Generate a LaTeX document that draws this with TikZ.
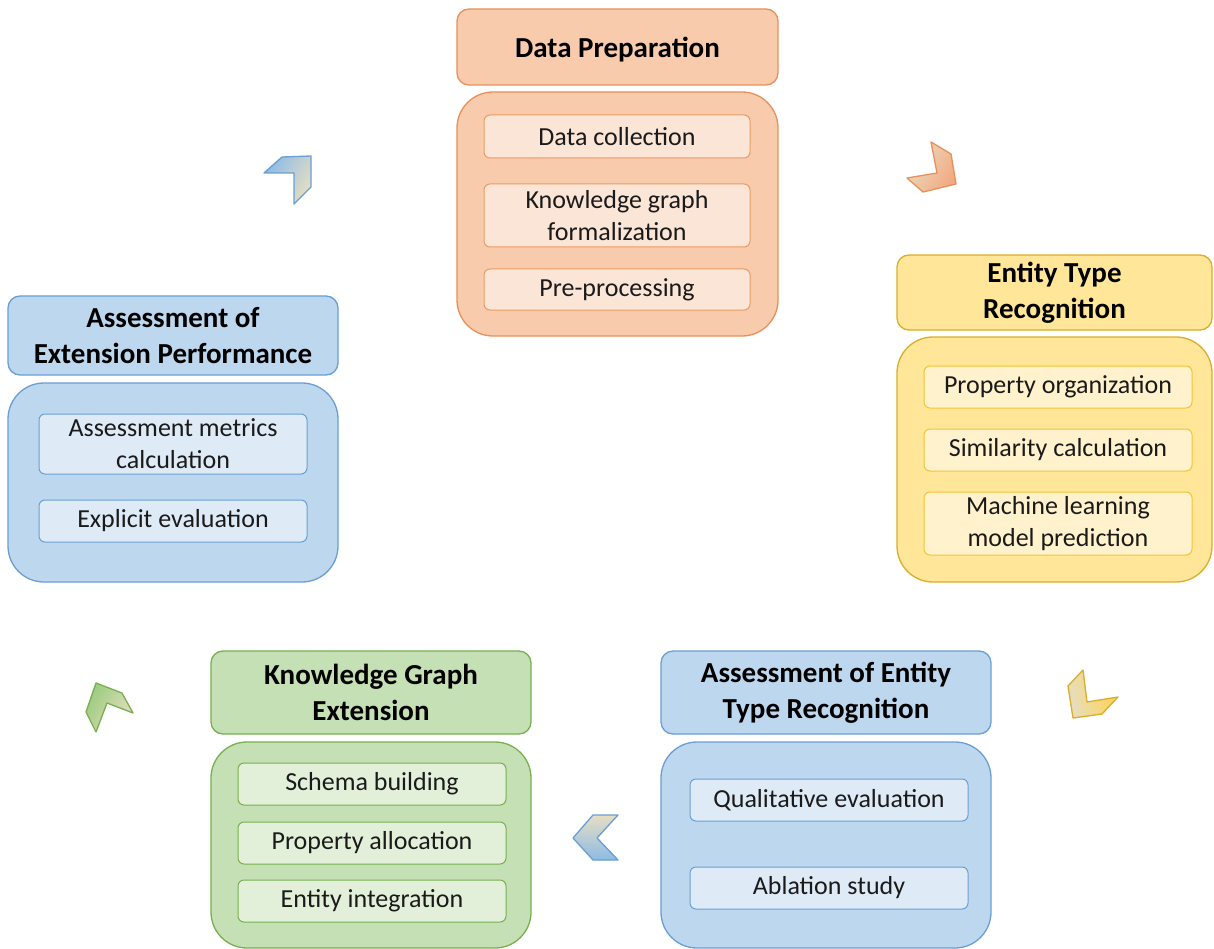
\documentclass[tikz,border=0pt]{standalone}
\usepackage{fontspec}
\setmainfont{Carlito}
\definecolor{orH}{HTML}{F8CBAD}
\definecolor{orB}{HTML}{E8905A}
\definecolor{orI}{HTML}{FBE5D6}
\definecolor{orIB}{HTML}{EE9A62}
\definecolor{yeH}{HTML}{FFE699}
\definecolor{yeB}{HTML}{D9AE2A}
\definecolor{yeI}{HTML}{FFF2CC}
\definecolor{yeIB}{HTML}{F5C433}
\definecolor{blH}{HTML}{BDD7EE}
\definecolor{blB}{HTML}{6A9FD4}
\definecolor{blI}{HTML}{DEEBF7}
\definecolor{blIB}{HTML}{6A9FD4}
\definecolor{grH}{HTML}{C5E0B4}
\definecolor{grB}{HTML}{78B050}
\definecolor{grI}{HTML}{E2F0D9}
\definecolor{grIB}{HTML}{78B050}
\definecolor{beige}{HTML}{E6DEC2}
\definecolor{chO}{HTML}{F4A982}
\definecolor{chY}{HTML}{FFD24D}
\definecolor{chB}{HTML}{8DBBE6}
\definecolor{chG}{HTML}{9CCB7E}
\definecolor{txt}{HTML}{1A1A1A}
\tikzset{
  hdr/.style={draw=#1, rounded corners=12pt, line width=1.3pt, align=center,
    font=\bfseries\fontsize{29}{36}\selectfont, inner sep=0pt, text=black},
  bodybox/.style={draw=#1, rounded corners=36pt, line width=1.3pt, inner sep=0pt},
  item/.style={draw=#1, rounded corners=6pt, line width=1pt, align=center,
    font=\fontsize{26}{32}\selectfont, inner sep=0pt, text=txt},
  chev/.style={line width=1.3pt, line join=round}
}
\begin{document}
\begin{tikzpicture}[x=1pt,y=-1pt]
\useasboundingbox (0,0) rectangle (1214,949);
\fill[white] (0,0) rectangle (1214,949);

% Data Preparation
\node[hdr=orB, fill=orH, minimum width=321, minimum height=76, text depth=0pt] (dph) at (617.5,47) {Data Preparation};
\node[bodybox=orB, fill=orH, minimum width=321, minimum height=244] (dpb) at (617.5,214) {};
\node[item=orIB, fill=orI, minimum width=266, minimum height=43] (dp1) at (617,136.5) {Data collection};
\node[item=orIB, fill=orI, minimum width=266, minimum height=63] (dp2) at (617,215.5) {Knowledge graph\\formalization};
\node[item=orIB, fill=orI, minimum width=266, minimum height=41] (dp3) at (617,289.5) {Pre-processing};

% Entity Type Recognition
\node[hdr=yeB, fill=yeH, minimum width=315, minimum height=75] (eth) at (1054.5,292.5) {Entity Type\\Recognition};
\node[bodybox=yeB, fill=yeH, minimum width=315, minimum height=245] (etb) at (1054.5,459.5) {};
\node[item=yeIB, fill=yeI, minimum width=268, minimum height=42] (et1) at (1058,387) {Property organization};
\node[item=yeIB, fill=yeI, minimum width=268, minimum height=42] (et2) at (1058,450) {Similarity calculation};
\node[item=yeIB, fill=yeI, minimum width=268, minimum height=63] (et3) at (1058,523.5) {Machine learning\\model prediction};

% Assessment of Entity Type Recognition
\node[hdr=blB, fill=blH, minimum width=330, minimum height=83] (aeh) at (826,692.5) {Assessment of Entity\\Type Recognition};
\node[bodybox=blB, fill=blH, minimum width=330, minimum height=206] (aeb) at (826,845) {};
\node[item=blIB, fill=blI, minimum width=278, minimum height=42] (ae1) at (829,800) {Qualitative evaluation};
\node[item=blIB, fill=blI, minimum width=278, minimum height=42] (ae2) at (829,888) {Ablation study};

% Knowledge Graph Extension
\node[hdr=grB, fill=grH, minimum width=320, minimum height=83] (kgh) at (371,692.5) {Knowledge Graph\\Extension};
\node[bodybox=grB, fill=grH, minimum width=320, minimum height=206] (kgb) at (371,845) {};
\node[item=grIB, fill=grI, minimum width=268, minimum height=42] (kg1) at (372,784) {Schema building};
\node[item=grIB, fill=grI, minimum width=268, minimum height=42] (kg2) at (372,843) {Property allocation};
\node[item=grIB, fill=grI, minimum width=268, minimum height=42] (kg3) at (372,901) {Entity integration};

% Assessment of Extension Performance
\node[hdr=blB, fill=blH, minimum width=330, minimum height=79] (aph) at (173,335.5) {Assessment of\\Extension Performance};
\node[bodybox=blB, fill=blH, minimum width=330, minimum height=199] (apb) at (173,482.5) {};
\node[item=blIB, fill=blI, minimum width=268, minimum height=60] (ap1) at (173,444) {Assessment metrics\\calculation};
\node[item=blIB, fill=blI, minimum width=268, minimum height=42] (ap2) at (173,521) {Explicit evaluation};

% Chevrons
\shadedraw[chev, draw=orB, left color=beige, right color=chO, shading angle=60]
  (931,142) -- (951,154) -- (956,184) -- (923,192) -- (907,178) -- (937,173) -- cycle;
\shadedraw[chev, draw=yeB, left color=beige, right color=chY, shading angle=100]
  (1083,670) -- (1068,686) -- (1073,718) -- (1102,714) -- (1118,697) -- (1087,702) -- cycle;
\shadedraw[chev, draw=blB, top color=beige, bottom color=chB]
  (593,815) -- (618,815) -- (597,838) -- (618,860) -- (593,860) -- (573,838) -- cycle;
\shadedraw[chev, draw=grB, left color=chG, right color=beige, shading angle=60]
  (96,683) -- (122,693) -- (133,713) -- (107,703) -- (96,732) -- (86,712) -- cycle;
\shadedraw[chev, draw=blB, left color=chB, right color=beige, shading angle=60]
  (264,173) -- (282,157) -- (311,156) -- (311,187) -- (294,204) -- (294,173) -- cycle;
\end{tikzpicture}
\end{document}
